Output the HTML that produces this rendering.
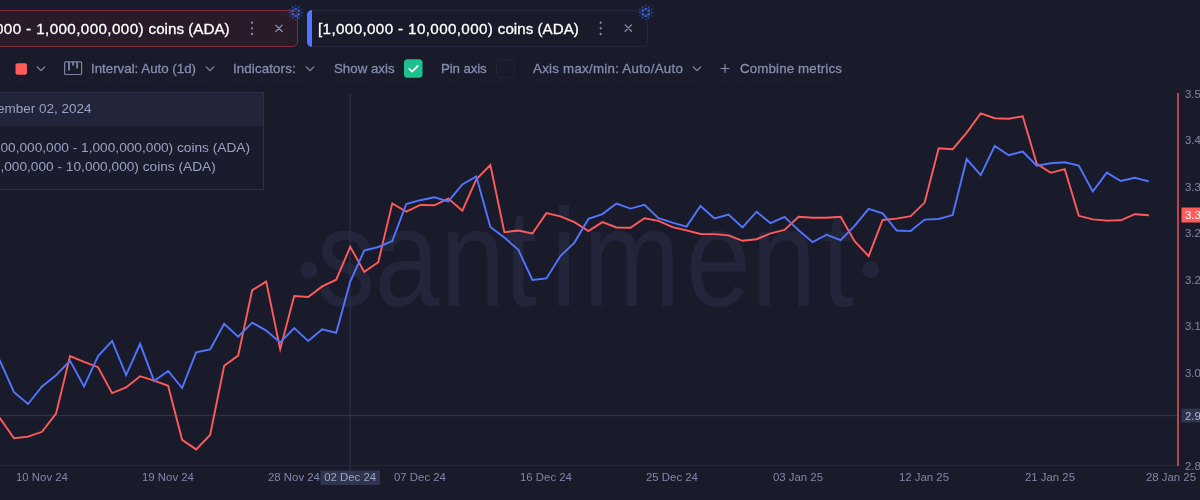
<!DOCTYPE html>
<html lang="en">
<head>
<meta charset="utf-8">
<title>Santiment chart</title>
<style>
html,body{margin:0;padding:0;}
body{width:1200px;height:500px;overflow:hidden;position:relative;background:#191b2a;font-family:"Liberation Sans",sans-serif;color:#fff;}
.abs{position:absolute;white-space:nowrap;}
.tab{position:absolute;top:10px;height:35px;border-radius:5px;box-sizing:content-box;}
.tab1{left:-120px;width:416px;border:1px solid #7d2f3b;background:#291b2a;}
.tab2{left:307px;width:339px;border:1px solid #24273e;background:#191b2a;}
.tab2 .bar{position:absolute;left:-1px;top:-1px;width:5px;height:37px;background:#5275ff;border-radius:5px 0 0 5px;}
.num{letter-spacing:0.4px;}
.tabtxt{position:absolute;top:20.4px;font-size:15.2px;line-height:18px;color:#fff;-webkit-text-stroke:0.3px #fff;white-space:nowrap;will-change:transform;}
.tool{position:absolute;top:60px;font-size:13.3px;line-height:17px;color:#868dae;-webkit-text-stroke:0.3px #868dae;white-space:nowrap;will-change:transform;}
.tip{position:absolute;left:-140px;top:92px;width:402px;height:96px;border:1px solid #2c2f47;background:#1a1c2d;box-sizing:content-box;}
.tip .hd{position:absolute;left:0;top:0;right:0;height:33px;background:#222439;}
.tiptxt{position:absolute;font-size:13.7px;line-height:16px;color:#9aa1c2;white-space:nowrap;will-change:transform;}
svg{position:absolute;left:0;top:0;will-change:transform;}
svg text{font-family:"Liberation Sans",sans-serif;}
</style>
</head>
<body>
<!-- chart -->
<svg width="1200" height="500" viewBox="0 0 1200 500">
  <!-- watermark -->
  <g fill="#23263b">
    <circle cx="308.8" cy="269.8" r="8.4"/>
    <circle cx="870.6" cy="269.8" r="8.4"/>
    <text id="wm" font-size="139" y="306.3" transform="scale(0.84,1)" x="377.2 445.8 524.1 600.2 656.0 693.9 816.5 894.2 978.2">santiment</text>
  </g>
  <!-- axes / crosshair -->
  <rect x="0" y="465" width="1178" height="1" fill="#22253b"/>
  <rect x="349.3" y="94" width="1.6" height="377" fill="#282c45"/>
  <rect x="0" y="414.8" width="1178" height="1.4" fill="#2d314b"/>
  <polyline fill="none" stroke="#ff5b5b" stroke-width="1.9" stroke-linejoin="miter" stroke-miterlimit="10" points="-14,398 0.00,418.4 14.01,438.2 28.02,436.6 42.03,431.8 56.04,413.6 70.05,356 84.06,361.8 98.07,367.2 112.08,393.1 126.09,387.4 140.10,376.2 154.11,380.6 168.12,385.8 182.13,439.8 196.14,449.4 210.15,435 224.16,365.7 238.17,355.6 252.18,290.2 266.19,281.6 280.20,349.2 294.21,296 308.22,297 322.23,286.4 336.24,279.7 350.25,246.8 364.26,271.9 378.27,262.2 392.28,203.4 406.29,211.7 420.30,205 434.31,205.3 448.32,198.6 462.33,210.7 476.34,179.4 490.35,165 504.36,232.2 518.37,230.5 532.38,233.5 546.39,213.1 560.40,216.3 574.41,222.1 588.42,231 602.43,222.1 616.44,227.5 630.45,227.8 644.46,218.2 658.47,220.8 672.48,227.2 686.49,230.4 700.50,234 714.51,234.1 728.52,235.4 742.53,240.8 756.54,239.2 770.55,233.4 784.56,229.9 798.57,216.8 812.58,217.8 826.59,217.8 840.60,216.8 854.61,241.1 868.62,256.2 882.63,220 896.64,218.6 910.65,216.1 924.66,202.6 938.67,148.2 952.68,149.2 966.69,132.6 980.70,113.4 994.71,118.2 1008.72,118.8 1022.73,116.3 1036.74,163.8 1050.75,172.8 1064.76,169.2 1078.77,215.8 1092.78,219.4 1106.79,220.6 1120.80,220.3 1134.81,214.2 1148.82,215.2"/>
  <polyline fill="none" stroke="#5275ff" stroke-width="1.9" stroke-linejoin="miter" stroke-miterlimit="10" points="-14,335 0.00,360.8 14.01,392.2 28.02,404 42.03,386.4 56.04,375.2 70.05,360.8 84.06,386.4 98.07,356 112.08,341 126.09,375.2 140.10,343.8 154.11,381 168.12,371 182.13,388 196.14,352.4 210.15,349.4 224.16,323.8 238.17,336.6 252.18,322.6 266.19,330.6 280.20,342.4 294.21,328 308.22,341.1 322.23,329.3 336.24,332.8 350.25,281.6 364.26,250.5 378.27,247 392.28,241.1 406.29,204 420.30,200.2 434.31,197.3 448.32,201.4 462.33,184.5 476.34,176.5 490.35,227 504.36,237.6 518.37,249.9 532.38,280 546.39,278.4 560.40,256 574.41,242.6 588.42,218.9 602.43,214.1 616.44,203.5 630.45,208.6 644.46,204.8 658.47,218.2 672.48,222.7 686.49,226.6 700.50,206 714.51,218.4 728.52,214.6 742.53,227.4 756.54,211.7 770.55,223.2 784.56,216.8 798.57,230.2 812.58,242.1 826.59,234.7 840.60,240.2 854.61,225.8 868.62,208.8 882.63,213.4 896.64,230.5 910.65,231.1 924.66,219.6 938.67,219 952.68,215.1 966.69,159.1 980.70,175.1 994.71,146 1008.72,155.2 1022.73,151.5 1036.74,165.7 1050.75,163.3 1064.76,162.3 1078.77,165.6 1092.78,191.5 1106.79,172.6 1120.80,181 1134.81,177.8 1148.82,181.3"/>
  <rect x="1177" y="93" width="2" height="373" fill="#b4464e"/>
  <g font-size="11.4" fill="#8087a8">
    <text x="1185" y="97.7">3.5</text>
    <text x="1185" y="144.2">3.4</text>
    <text x="1185" y="190.7">3.3</text>
    <text x="1185" y="237.2">3.2</text>
    <text x="1185" y="283.7">3.2</text>
    <text x="1185" y="330.2">3.1</text>
    <text x="1185" y="376.7">3.0</text>
    <text x="1185" y="469.7">2.8</text>
  </g>
  <rect x="1181.5" y="207.5" width="20" height="15" fill="#ff5b5b"/>
  <text x="1185" y="219.2" font-size="11.4" fill="#ffffff">3.3</text>
  <rect x="1181.5" y="408.5" width="20" height="14" fill="#30344e"/>
  <text x="1185" y="419.6" font-size="11.4" fill="#b5bbd6">2.9</text>
  <g font-size="11.4" fill="#8087a8" text-anchor="middle">
    <text x="42" y="481">10 Nov 24</text>
    <text x="168" y="481">19 Nov 24</text>
    <text x="294" y="481">28 Nov 24</text>
    <text x="420" y="481">07 Dec 24</text>
    <text x="546" y="481">16 Dec 24</text>
    <text x="672" y="481">25 Dec 24</text>
    <text x="798" y="481">03 Jan 25</text>
    <text x="924" y="481">12 Jan 25</text>
    <text x="1050" y="481">21 Jan 25</text>
    <text x="1171" y="481">28 Jan 25</text>
  </g>
  <rect x="320.5" y="470.5" width="59.5" height="14.5" fill="#30344e"/>
  <text x="350.2" y="481.3" font-size="11.4" fill="#9ea5c4" text-anchor="middle">02 Dec 24</text>
</svg>

<!-- tabs -->
<div class="tab tab1"></div>
<div class="tabtxt" id="t1" style="right:970.7px;"><span class="num">[100,000,000 - 1,000,000,000) </span>coins (ADA)</div>
<div class="tab tab2"><div class="bar"></div></div>
<div class="tabtxt" id="t2" style="left:317.9px;"><span class="num" style="letter-spacing:0.37px">[1,000,000 - 10,000,000) </span>coins (ADA)</div>

<svg width="1200" height="100" viewBox="0 0 1200 100">
  <!-- kebab + close tab1 -->
  <g fill="#868dae">
    <circle cx="252" cy="22.7" r="1.15"/><circle cx="252" cy="28.35" r="1.15"/><circle cx="252" cy="34" r="1.15"/>
    <circle cx="600.7" cy="22.7" r="1.15"/><circle cx="600.7" cy="28.35" r="1.15"/><circle cx="600.7" cy="34" r="1.15"/>
  </g>
  <g stroke="#868dae" stroke-width="1.3" fill="none" stroke-linecap="round">
    <path d="M275.8 25.1 L282.2 31.5 M282.2 25.1 L275.8 31.5"/>
    <path d="M625.1 24.9 L631.5 31.3 M631.5 24.9 L625.1 31.3"/>
  </g>
  <!-- cardano icons -->
  <g id="ada1" transform="translate(295.8,12.5)">
    <circle cx="2.94" cy="1.70" r="1.45" fill="#3559cc"/><circle cx="0.00" cy="3.40" r="1.45" fill="#3559cc"/><circle cx="-2.94" cy="1.70" r="1.45" fill="#3559cc"/><circle cx="-2.94" cy="-1.70" r="1.45" fill="#3559cc"/><circle cx="-0.00" cy="-3.40" r="1.45" fill="#3559cc"/><circle cx="2.94" cy="-1.70" r="1.45" fill="#3559cc"/><circle cx="5.70" cy="0.00" r="0.95" fill="#2d4cac"/><circle cx="2.85" cy="4.94" r="0.95" fill="#2d4cac"/><circle cx="-2.85" cy="4.94" r="0.95" fill="#2d4cac"/><circle cx="-5.70" cy="0.00" r="0.95" fill="#2d4cac"/><circle cx="-2.85" cy="-4.94" r="0.95" fill="#2d4cac"/><circle cx="2.85" cy="-4.94" r="0.95" fill="#2d4cac"/><circle cx="6.06" cy="3.50" r="0.8" fill="#2a459c"/><circle cx="0.00" cy="7.00" r="0.8" fill="#2a459c"/><circle cx="-6.06" cy="3.50" r="0.8" fill="#2a459c"/><circle cx="-6.06" cy="-3.50" r="0.8" fill="#2a459c"/><circle cx="-0.00" cy="-7.00" r="0.8" fill="#2a459c"/><circle cx="6.06" cy="-3.50" r="0.8" fill="#2a459c"/><circle cx="7.90" cy="0.00" r="0.55" fill="#253b82"/><circle cx="3.95" cy="6.84" r="0.55" fill="#253b82"/><circle cx="-3.95" cy="6.84" r="0.55" fill="#253b82"/><circle cx="-7.90" cy="0.00" r="0.55" fill="#253b82"/><circle cx="-3.95" cy="-6.84" r="0.55" fill="#253b82"/><circle cx="3.95" cy="-6.84" r="0.55" fill="#253b82"/>
  </g>
  <g id="ada2" transform="translate(645.8,12.5)">
    <circle cx="2.94" cy="1.70" r="1.45" fill="#3559cc"/><circle cx="0.00" cy="3.40" r="1.45" fill="#3559cc"/><circle cx="-2.94" cy="1.70" r="1.45" fill="#3559cc"/><circle cx="-2.94" cy="-1.70" r="1.45" fill="#3559cc"/><circle cx="-0.00" cy="-3.40" r="1.45" fill="#3559cc"/><circle cx="2.94" cy="-1.70" r="1.45" fill="#3559cc"/><circle cx="5.70" cy="0.00" r="0.95" fill="#2d4cac"/><circle cx="2.85" cy="4.94" r="0.95" fill="#2d4cac"/><circle cx="-2.85" cy="4.94" r="0.95" fill="#2d4cac"/><circle cx="-5.70" cy="0.00" r="0.95" fill="#2d4cac"/><circle cx="-2.85" cy="-4.94" r="0.95" fill="#2d4cac"/><circle cx="2.85" cy="-4.94" r="0.95" fill="#2d4cac"/><circle cx="6.06" cy="3.50" r="0.8" fill="#2a459c"/><circle cx="0.00" cy="7.00" r="0.8" fill="#2a459c"/><circle cx="-6.06" cy="3.50" r="0.8" fill="#2a459c"/><circle cx="-6.06" cy="-3.50" r="0.8" fill="#2a459c"/><circle cx="-0.00" cy="-7.00" r="0.8" fill="#2a459c"/><circle cx="6.06" cy="-3.50" r="0.8" fill="#2a459c"/><circle cx="7.90" cy="0.00" r="0.55" fill="#253b82"/><circle cx="3.95" cy="6.84" r="0.55" fill="#253b82"/><circle cx="-3.95" cy="6.84" r="0.55" fill="#253b82"/><circle cx="-7.90" cy="0.00" r="0.55" fill="#253b82"/><circle cx="-3.95" cy="-6.84" r="0.55" fill="#253b82"/><circle cx="3.95" cy="-6.84" r="0.55" fill="#253b82"/>
  </g>
  <g stroke="#232639" stroke-width="1" stroke-dasharray="1.8 2.05" fill="none">
    <path d="M15 81 H45.6 M63.6 81 H214 M233.3 81 H314 M333.5 81 H420 M443 81 H511.5 M533.3 81 H701 M721 81 H841.7"/>
  </g>
  <!-- toolbar icons -->
  <rect x="15.5" y="63.2" width="11.5" height="11.5" rx="2" fill="#ff5b5b"/>
  <g stroke="#868dae" stroke-width="1.2" fill="none" stroke-linecap="round" stroke-linejoin="round">
    <path d="M37.2 66.9 L41 70.7 L44.8 66.9"/>
    <path d="M206.2 66.9 L210 70.7 L213.8 66.9"/>
    <path d="M306.2 66.9 L310 70.7 L313.8 66.9"/>
    <path d="M693.2 66.9 L697 70.7 L700.8 66.9"/>
    <path d="M721 68.5 L729 68.5 M725 64.5 L725 72.5"/>
  </g>
  <g stroke="#7b82a3" stroke-width="1.2" fill="none" stroke-linejoin="round">
    <rect x="64.6" y="61.8" width="17" height="12.7" rx="1"/>
    <path stroke-width="1.9" d="M69 61.8 V70.5 M73.1 61.8 V65.6 M77.1 61.8 V68.4"/>
  </g>
  <rect x="404" y="59.3" width="18.5" height="18.5" rx="3.5" fill="#1dc18e"/>
  <path d="M409.2 68.9 L412.2 71.7 L417.8 65.8" stroke="#fff" stroke-width="1.7" fill="none" stroke-linecap="round" stroke-linejoin="round"/>
  <rect x="496.5" y="59.8" width="17.5" height="17.5" rx="3.5" fill="#191b2a" stroke="#22253b" stroke-width="1"/>
</svg>

<div class="tool" id="u1" style="left:91px;">Interval: Auto (1d)</div>
<div class="tool" id="u2" style="left:233.3px;letter-spacing:0.13px;">Indicators:</div>
<div class="tool" id="u3" style="left:333.5px;">Show axis</div>
<div class="tool" id="u4" style="left:441.2px;letter-spacing:-0.13px;">Pin axis</div>
<div class="tool" id="u5" style="left:533.3px;letter-spacing:0.26px;">Axis max/min: Auto/Auto</div>
<div class="tool" id="u6" style="left:739.6px;letter-spacing:0.15px;">Combine metrics</div>

<!-- tooltip -->
<div class="tip"><div class="hd"></div></div>
<div class="tiptxt" id="p0" style="left:-27.3px;top:101.1px;font-size:13.5px;">December 02, 2024</div>
<div class="tiptxt" id="p1" style="left:-11.5px;top:139.8px;">[100,000,000 - 1,000,000,000) coins (ADA)</div>
<div class="tiptxt" id="p2" style="left:-11.3px;top:158.5px;">[1,000,000 - 10,000,000) coins (ADA)</div>
</body>
</html>
